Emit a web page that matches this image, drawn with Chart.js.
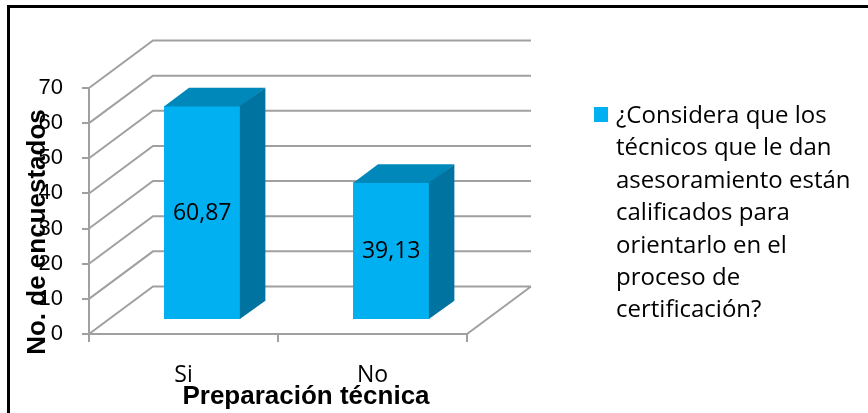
<!DOCTYPE html>
<html>
<head>
<meta charset="utf-8">
<script src="https://cdn.jsdelivr.net/npm/chart.js@4/dist/chart.umd.min.js"></script>
<style>
  html, body { margin: 0; padding: 0; background: #fff; overflow: hidden; }
  #wrap { position: relative; width: 868px; height: 413px; }
  #chart { position: absolute; left: 0; top: 0; }
  #frame { position: absolute; left: 7px; top: 5px; width: 900px; height: 450px;
           border-left: 3px solid #000; border-top: 3px solid #000; }
</style>
</head>
<body>
<div id="wrap">
  <canvas id="chart" width="868" height="413"></canvas>
  <div id="frame"></div>
</div>
<script>
// ---------- data ----------
const categories = ['Si', 'No'];
const values = [60.87, 39.13];
const seriesName = ['¿Considera que los', 'técnicos que le dan', 'asesoramiento están',
                    'calificados para', 'orientarlo en el', 'proceso de', 'certificación?'];
const yMin = 0, yMax = 70, yStep = 10;
const xTitle = 'Preparación técnica';
const yTitle = 'No. de encuestados';

// ---------- look ----------
const FRONT = '#00b0f0', TOP = '#0088bb', SIDE = '#0073a0';
const GRID = '#a0a0a0';
const DEPTH_X = 64, DEPTH_Y = 47.5;   // back wall offset
const BAR_X = 18.7, BAR_Y = 14;       // bars sit a bit behind the front plane
const BAR_DX = 25, BAR_DY = 18.3;     // bar depth

function fmt(v) {
    return v.toFixed(2).replace('.', ',');
}

// walls, 3d faces, labels, titles and legend
const box3d = {
    id: 'box3d',
    beforeDatasetsDraw(chart) {
        const { ctx, chartArea: a, scales: { y } } = chart;
        ctx.save();
        ctx.strokeStyle = GRID;
        ctx.lineWidth = 2;
        ctx.beginPath();
        y.ticks.forEach(t => {
            const py = y.getPixelForValue(t.value);
            ctx.moveTo(a.left, py);
            ctx.lineTo(a.left + DEPTH_X, py - DEPTH_Y);
            ctx.lineTo(a.right + DEPTH_X, py - DEPTH_Y);
        });
        ctx.moveTo(a.right, a.bottom);
        ctx.lineTo(a.right + DEPTH_X, a.bottom - DEPTH_Y);
        ctx.stroke();
        ctx.restore();

        // front faces get drawn by chart.js, shifted back
        ctx.save();
        ctx.translate(BAR_X, -BAR_Y);
    },
    afterDatasetsDraw(chart) {
        const { ctx } = chart;
        ctx.restore();
        const meta = chart.getDatasetMeta(0);
        meta.data.forEach((bar, i) => {
            const { x, y, base, width } = bar.getProps(['x', 'y', 'base', 'width'], true);
            const l = x - width / 2 + BAR_X, r = x + width / 2 + BAR_X;
            const t = y - BAR_Y, b = base - BAR_Y;

            ctx.fillStyle = TOP;
            ctx.beginPath();
            ctx.moveTo(l, t + 0.5);
            ctx.lineTo(r, t + 0.5);
            ctx.lineTo(r + BAR_DX, t - BAR_DY);
            ctx.lineTo(l + BAR_DX, t - BAR_DY);
            ctx.closePath();
            ctx.fill();

            ctx.fillStyle = SIDE;
            ctx.beginPath();
            ctx.moveTo(r - 0.5, t);
            ctx.lineTo(r + BAR_DX, t - BAR_DY);
            ctx.lineTo(r + BAR_DX, b - BAR_DY);
            ctx.lineTo(r - 0.5, b);
            ctx.closePath();
            ctx.fill();

            ctx.fillStyle = '#000';
            ctx.font = '23px "Open Sans"';
            ctx.textAlign = 'center';
            ctx.textBaseline = 'middle';
            ctx.fillText(fmt(values[i]), (l + r) / 2, (t + b) / 2 + 1);
        });
    },
    afterDraw(chart) {
        const { ctx } = chart;
        ctx.save();
        ctx.fillStyle = '#000';

        // axis titles
        ctx.font = 'bold 26px "Liberation Sans"';
        ctx.textAlign = 'center';
        ctx.textBaseline = 'alphabetic';
        ctx.fillText(xTitle, 306, 404);

        ctx.save();
        ctx.translate(38, 232);
        ctx.rotate(-Math.PI / 2);
        ctx.textBaseline = 'middle';
        ctx.fillText(yTitle, 0, 0);
        ctx.restore();

        // legend
        ctx.fillStyle = FRONT;
        ctx.fillRect(594, 107, 14, 15);
        ctx.fillStyle = '#000';
        ctx.font = '24px "Open Sans"';
        ctx.textAlign = 'left';
        ctx.textBaseline = 'alphabetic';
        seriesName.forEach((line, i) => {
            ctx.fillText(line, 616, 123 + i * 32.4);
        });
        ctx.restore();
    }
};

new Chart(document.getElementById('chart'), {
    type: 'bar',
    data: {
        labels: categories,
        datasets: [{
            label: seriesName.join(' '),
            data: values,
            backgroundColor: FRONT,
            borderWidth: 0,
            barPercentage: 0.404,
            categoryPercentage: 1
        }]
    },
    options: {
        responsive: false,
        animation: false,
        devicePixelRatio: 1,
        layout: { padding: { left: 0, top: 88, right: 401, bottom: 0 } },
        plugins: {
            legend: { display: false },
            tooltip: { enabled: false }
        },
        scales: {
            x: {
                grid: { drawOnChartArea: false, tickLength: 8, color: GRID, lineWidth: 2, offset: true },
                border: { color: GRID, width: 2 },
                ticks: { color: '#000', font: { family: 'Open Sans', size: 23 }, padding: 20 },
                afterFit(s) { s.height = 79; }
            },
            y: {
                min: yMin,
                max: yMax,
                ticks: { stepSize: yStep, color: '#000', font: { family: 'Liberation Sans', size: 22 }, padding: 19 },
                grid: { drawOnChartArea: false, tickLength: 7, color: GRID, lineWidth: 2 },
                border: { color: GRID, width: 2 },
                afterFit(s) { s.width = 89; }
            }
        }
    },
    plugins: [box3d]
});
</script>
</body>
</html>
